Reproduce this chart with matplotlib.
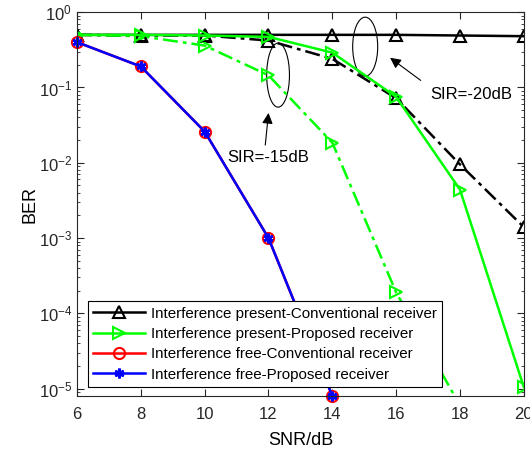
import numpy as np
import matplotlib
matplotlib.use('Agg')
import matplotlib.pyplot as plt
from matplotlib.patches import Ellipse

plt.rcParams['font.family'] = ['Liberation Sans', 'DejaVu Sans']
plt.rcParams['mathtext.fontset'] = 'custom'
plt.rcParams['mathtext.rm'] = 'Liberation Sans'
plt.rcParams['mathtext.default'] = 'regular'

snr = [6, 8, 10, 12, 14, 16, 18, 20]
snr_free = [6, 8, 10, 12, 14]

# SIR = -20 dB
ber_conv_20 = [0.5, 0.5, 0.5, 0.5, 0.5, 0.5, 0.49, 0.48]
ber_prop_20 = [0.5, 0.5, 0.49, 0.47, 0.29, 0.075, 0.0044, 1.05e-5]
# SIR = -15 dB
ber_conv_15 = [0.5, 0.49, 0.49, 0.42, 0.24, 0.072, 0.0095, 0.0014]
ber_prop_15 = [0.5, 0.48, 0.36, 0.145, 0.0185, 1.9e-4, 6e-6, 1e-7]
# interference free
ber_free_conv = [0.4, 0.19, 0.026, 1e-3, 8e-6]
ber_free_prop = [0.4, 0.19, 0.026, 1e-3, 8e-6]

labels = ['Interference present-Conventional receiver',
          'Interference present-Proposed receiver',
          'Interference free-Conventional receiver',
          'Interference free-Proposed receiver']

fig = plt.figure(figsize=(5.3, 4.51), dpi=100)
ax = fig.add_axes([0.1453, 0.122, 0.843, 0.851])

dd = (0, (6, 2, 1.5, 2))
ax.semilogy(snr, ber_conv_15, color='k', ls=dd, lw=1.8, marker='^', ms=9,
            mfc='none', mew=1.5)
ax.semilogy(snr, ber_prop_15, color='#00ff00', ls=dd, lw=1.8, marker='>', ms=9,
            mfc='none', mew=1.5)
l1, = ax.semilogy(snr, ber_conv_20, color='k', lw=1.8, marker='^', ms=9,
                  mfc='none', mew=1.5)
l2, = ax.semilogy(snr, ber_prop_20, color='#00ff00', lw=1.8, marker='>', ms=9,
                  mfc='none', mew=1.5)
l3, = ax.semilogy(snr_free, ber_free_conv, color='r', lw=1.8, marker='o', ms=8,
                  mfc='none', mew=1.5, clip_on=False)
l4, = ax.semilogy(snr_free, ber_free_prop, color='b', lw=1.8, marker=(6, 2, 0), ms=7,
                  mew=2, clip_on=False)

ax.set_xlim(6, 20)
ax.set_ylim(8e-6, 1)
ax.set_xticks(range(6, 21, 2))
ax.set_xlabel('SNR/dB', fontsize=13, labelpad=7)
ax.set_ylabel('BER', fontsize=13, labelpad=0)
ax.tick_params(which='both', direction='in', top=True, right=True, colors='#262626',
               labelsize=12)
ax.tick_params(axis='x', pad=8)
ax.tick_params(which='major', length=5)
ax.tick_params(which='minor', length=2.5)
for s in ax.spines.values():
    s.set_color('#262626')
    s.set_linewidth(0.8)

# annotations
ax.add_patch(Ellipse((0.450, 0.836), 0.051, 0.167, transform=ax.transAxes,
                     fill=False, ec='k', lw=0.8))
ax.add_patch(Ellipse((0.645, 0.910), 0.056, 0.154, transform=ax.transAxes,
                     fill=False, ec='k', lw=0.8))
ax.annotate('', xy=(15.74, 0.261), xytext=(16.84, 0.118),
            arrowprops=dict(arrowstyle='-|>', color='k', lw=0.8, mutation_scale=16))
ax.text(18.34, 0.08, 'SIR=-20dB', fontsize=12, ha='center', va='center')
ax.annotate('', xy=(12.01, 0.05), xytext=(11.89, 0.0158),
            arrowprops=dict(arrowstyle='-|>', color='k', lw=0.8, mutation_scale=16))
ax.text(11.98, 0.0118, 'SIR=-15dB', fontsize=12, ha='center', va='center')

leg = ax.legend([l1, l2, l3, l4], labels, loc='lower left',
                bbox_to_anchor=(0.0246, 0.0234), borderaxespad=0, fontsize=10.9,
                fancybox=False, edgecolor='k', framealpha=1, handlelength=3.4,
                labelspacing=0.42, borderpad=0.35, handletextpad=0.4)
leg.get_frame().set_linewidth(0.8)

fig.savefig('out.png', dpi=100)
